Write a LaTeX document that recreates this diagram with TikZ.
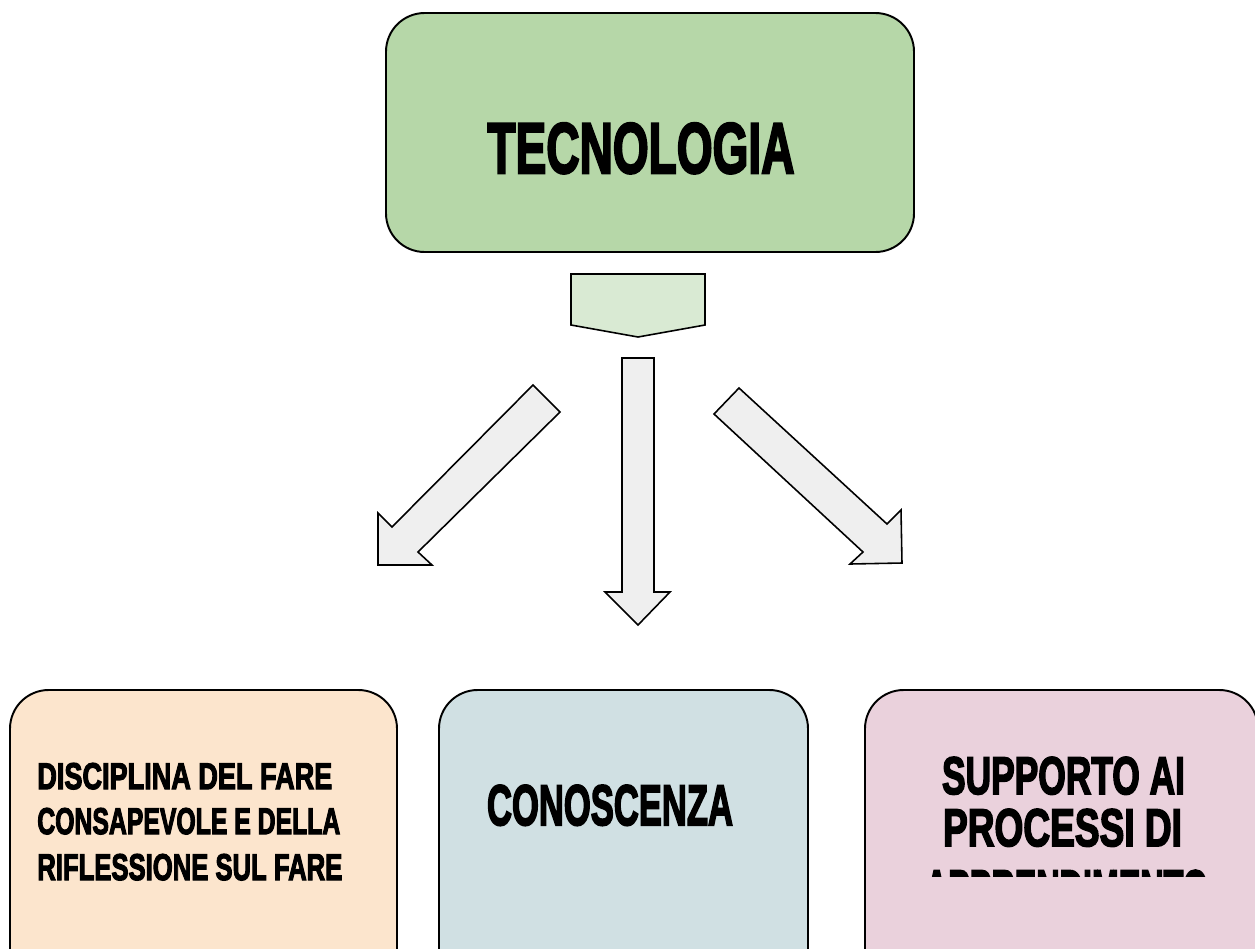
\documentclass[tikz,border=0pt]{standalone}
\usepackage{fontspec}
\newfontfamily\impactfont{Liberation Sans}[FakeBold=3.5]
\definecolor{verde}{HTML}{B6D7A8}
\definecolor{verdino}{HTML}{D9EAD3}
\definecolor{grigino}{HTML}{EFEFEF}
\definecolor{pesca}{HTML}{FCE5CD}
\definecolor{azzurro}{HTML}{D0E0E3}
\definecolor{rosa}{HTML}{EAD1DC}
% testo compresso: larghezza, altezza delle maiuscole, testo
\newcommand{\compresso}[3]{\resizebox{#1cm}{#2cm}{\impactfont\bfseries #3}}
\tikzset{
  box/.style={draw, line width=1.1pt, rounded corners=22pt},
  freccia/.style={draw, line width=0.9pt, fill=grigino, line join=miter},
  titolo/.style={text=black, inner sep=0pt, anchor=base}
}
\begin{document}
\begin{tikzpicture}[x=0.02cm, y=-0.02cm]
        \clip (0,0) rectangle (1255,948);
        \fill[white] (0,0) rectangle (1255,948);
        % riquadro in alto
        \draw[box, fill=verde] (386,13) rectangle (914,252);
        \node[titolo] (tec) at (641,173) {\compresso{6.14}{1}{TECNOLOGIA}};
        \draw[freccia, fill=verdino] (571,274) -- (705,274) -- (705,325) -- (638,337) -- (571,325) -- cycle;
        % frecce
        \draw[freccia] (533,385) -- (560,412) -- (418,552) -- (432,565) -- (378,565) -- (378,513) -- (392,527) -- cycle;
        \draw[freccia] (622,358) -- (654,358) -- (654,592) -- (670,592) -- (638,625) -- (605,592) -- (622,592) -- cycle;
        \draw[freccia] (739,388) -- (887,524) -- (901,510) -- (902,563) -- (850,564) -- (863,552) -- (714,414) -- cycle;
        % riquadri in basso
        \draw[box, fill=pesca] (10,690) rectangle (397,990);
        \draw[box, fill=azzurro] (439,690) rectangle (808,990);
        \draw[box, fill=rosa] (865,690) rectangle (1258,990);
        \foreach \riga/\w/\y in {DISCIPLINA DEL FARE/5.9/789, CONSAPEVOLE E DELLA/6.06/834, RIFLESSIONE SUL FARE/6.1/880} {
            \node[titolo, anchor=base west] at (37,\y) {\compresso{\w}{0.52}{\riga}};
        }
        \node[titolo] (con) at (610,825) {\compresso{4.92}{0.8}{CONOSCENZA}};
        \node[titolo] (sup) at (1063.5,794) {\compresso{4.86}{0.74}{SUPPORTO AI}};
        \node[titolo] (pro) at (1062.5,846) {\compresso{4.78}{0.74}{PROCESSI DI}};
        \begin{scope}
            \clip (866,700) rectangle (1250,876);
            \node[titolo] (app) at (1066.5,907) {\compresso{5.66}{0.74}{APPRENDIMENTO}};
        \end{scope}
    \end{tikzpicture}
\end{document}
